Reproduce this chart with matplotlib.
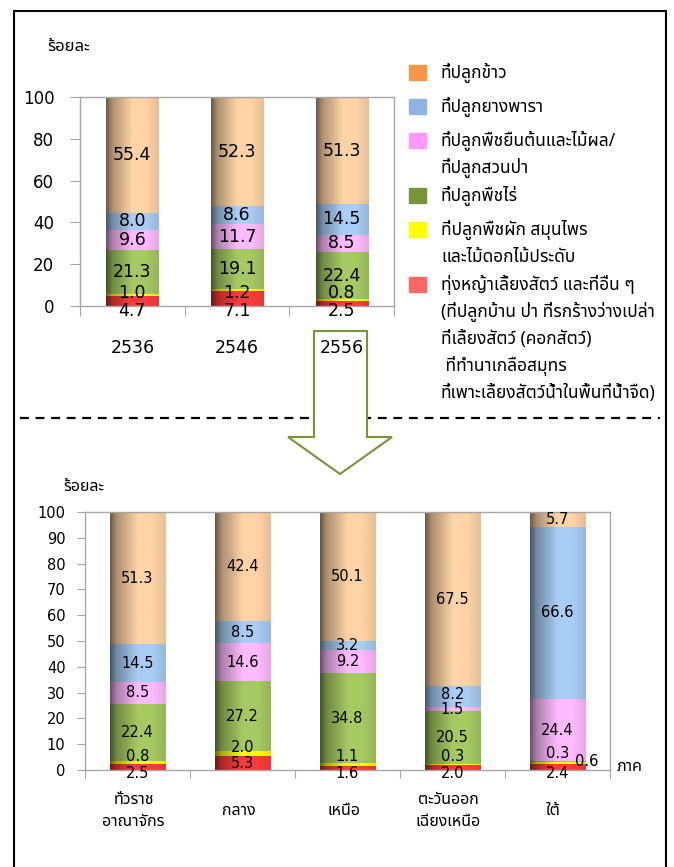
import numpy as np
import matplotlib
matplotlib.use("Agg")
import matplotlib.pyplot as plt
import matplotlib.colors as mcolors
from matplotlib import font_manager
from matplotlib.ft2font import FT2Font
from matplotlib.patches import Rectangle, Polygon
from matplotlib.lines import Line2D

# ---- data ----
years = ["2536", "2546", "2556"]
others_y = [4.7, 7.1, 2.5]
veg_y = [1.0, 1.2, 0.8]
field_y = [21.3, 19.1, 22.4]
perennial_y = [9.6, 11.7, 8.5]
rubber_y = [8.0, 8.6, 14.5]
rice_y = [55.4, 52.3, 51.3]

regions = ["ทั่วราช\nอาณาจักร", "กลาง", "เหนือ", "ตะวันออก\nเฉียงเหนือ", "ใต้"]
others_r = [2.5, 5.3, 1.6, 2.0, 2.4]
veg_r = [0.8, 2.0, 1.1, 0.3, 0.6]
field_r = [22.4, 27.2, 34.8, 20.5, 0.3]
perennial_r = [8.5, 14.6, 9.2, 1.5, 24.4]
rubber_r = [14.5, 8.5, 3.2, 8.2, 66.6]
rice_r = [51.3, 42.4, 50.1, 67.5, 5.7]

# legend, top to bottom
legend_labels = [
    ["ที่ปลูกข้าว"],
    ["ที่ปลูกยางพารา"],
    ["ที่ปลูกพืชยืนต้นและไม้ผล/", "ที่ปลูกสวนป่า"],
    ["ที่ปลูกพืชไร่"],
    ["ที่ปลูกพืชผัก สมุนไพร", "และไม้ดอกไม้ประดับ"],
    ["ทุ่งหญ้าเลี้ยงสัตว์ และที่อื่น ๆ", "(ที่ปลูกบ้าน ป่า ที่รกร้างว่างเปล่า",
     "ที่เลี้ยงสัตว์ (คอกสัตว์)", " ที่ทำนาเกลือสมุทร",
     "ที่เพาะเลี้ยงสัตว์น้ำในพื้นที่น้ำจืด)"],
]
legend_colors = ["#F79646", "#8DB4E2", "#FF99FF", "#77933C", "#FFFF00", "#FF6666"]
# bar body colours, bottom to top (others, veg, field, perennial, rubber, rice)
bar_colors = ["#FF3B3B", "#FFFF10", "#A6CA62", "#FFBBFF", "#A9CDF5", "#FFD4A6"]


# ---- fonts: find something that can draw Thai ----
def thai_family():
    known = {f.fname for f in font_manager.fontManager.ttflist}
    for path in font_manager.findSystemFonts():
        if path not in known:
            try:
                font_manager.fontManager.addfont(path)
            except Exception:
                pass
    found = []
    for f in font_manager.fontManager.ttflist:
        try:
            if 0x0E01 in FT2Font(f.fname).get_charmap():
                found.append(f.name)
        except Exception:
            pass
    pref = ["Tahoma", "Noto Sans Thai", "Noto Sans Thai UI", "Loma", "Waree",
            "Garuda", "Umpush", "Sawasdee", "Kinnari", "Norasi"]
    for p in pref:
        if p in found:
            return p
    return found[0] if found else None


tf = thai_family()
thai = [tf, "DejaVu Sans"] if tf else ["DejaVu Sans"]
plt.rcParams["font.family"] = thai
names = {f.name for f in font_manager.fontManager.ttflist}
num_font = ["DejaVu Sans Condensed" if "DejaVu Sans Condensed" in names else "DejaVu Sans"]

W, H = 674, 867
fig = plt.figure(figsize=(W / 100, H / 100), dpi=100)


def fx(px):
    return px / W


def fy(py):
    return 1 - py / H


def shade(ax, rect, base):
    x0, y0 = rect.get_x(), rect.get_y()
    w, h = rect.get_width(), rect.get_height()
    t = np.linspace(0, 1, 80)
    s = np.interp(t, [0, 0.12, 0.5, 0.75, 1], [0.42, 0.68, 1.0, 1.0, 0.9])
    rgb = np.array(mcolors.to_rgb(base))
    img = np.clip(rgb[None, :] * s[:, None], 0, 1)[None, :, :]
    ax.imshow(img, extent=(x0, x0 + w, y0, y0 + h), aspect="auto",
              interpolation="bilinear", zorder=2.5)


def draw_stack(ax, stack, width):
    n = len(stack[0])
    x = np.arange(n)
    bottom = np.zeros(n)
    out = []
    for vals, col in zip(stack, bar_colors):
        bars = ax.bar(x, vals, width, bottom=bottom, color=col, linewidth=0, zorder=2)
        for r in bars:
            shade(ax, r, col)
        out.append(bars)
        bottom = bottom + np.array(vals)
    return out


def style(ax, cats, fs, tlen, ypad, cat_fs, cat_drop, cat_dx):
    n = len(cats)
    for s in ax.spines.values():
        s.set_color("#A6A6A6")
        s.set_linewidth(1)
    ax.set_xlim(-0.5, n - 0.5)
    ax.set_ylim(0, 100)
    ax.set_xticks(np.arange(n + 1) - 0.5)
    ax.set_xticklabels([])
    ax.tick_params(axis="both", which="major", direction="out", length=tlen,
                   color="#A6A6A6", labelsize=fs)
    ax.tick_params(axis="y", pad=ypad)
    for lb in ax.get_yticklabels():
        lb.set_family(num_font)
    for i, c in enumerate(cats):
        fam = num_font if c.isdigit() else thai
        ax.annotate(c, (i, 0), xycoords=ax.get_xaxis_transform(),
                    xytext=(cat_dx * 0.72, -cat_drop * 0.72), textcoords="offset points",
                    ha="center", va="center", fontsize=cat_fs, family=fam,
                    linespacing=1.5, annotation_clip=False)


def put(ax, x, y_px, txt, fs, ha="center"):
    ax.annotate(txt, (x, 0), xytext=(0, y_px * 0.72), textcoords="offset points",
                ha=ha, va="center", fontsize=fs, family=num_font, zorder=5,
                annotation_clip=False)


# ---- top chart ----
ax1 = fig.add_axes([fx(80), fy(306), fx(394) - fx(80), (306 - 97) / H])
stack_y = [others_y, veg_y, field_y, perennial_y, rubber_y, rice_y]
cont1 = draw_stack(ax1, stack_y, 0.5)
style(ax1, years, 12, 7, 11.5, 12.5, 42, 0)
ax1.set_yticks(np.arange(0, 101, 20))
ppu1 = 209 / 100
for i in range(len(years)):
    base = 0.0
    for k, vals in enumerate(stack_y):
        v = vals[i]
        if k == 0:
            y = -5
        elif k == 1:
            y = 13
        else:
            y = (base + v / 2) * ppu1
        put(ax1, i, y, f"{v:.1f}", 12.5)
        base += v

# ---- bottom chart ----
ax2 = fig.add_axes([fx(85), fy(770), fx(610) - fx(85), (770 - 512) / H])
stack_r = [others_r, veg_r, field_r, perennial_r, rubber_r, rice_r]
cont2 = draw_stack(ax2, stack_r, 0.53)
style(ax2, regions, 10.5, 6, 8, 11.5, 41, -4)
ax2.set_yticks(np.arange(0, 101, 10))
ppu2 = 258 / 100
for i in range(len(regions)):
    base = 0.0
    last = None
    tiny = veg_r[i] < 1 and field_r[i] < 1
    for k, vals in enumerate(stack_r):
        v = vals[i]
        top = base + v
        x = i
        if k == 0:
            y = (v / 2) * ppu2 if v * ppu2 > 10 else -4
        elif k == 1:
            if tiny:
                y, x = 9, i + 0.28
            else:
                y = max(top * ppu2 + 4, 13.5)
        elif k == 2 and tiny:
            y = 17
        else:
            y = (base + v / 2) * ppu2
        if x == i:
            # keep stacked labels from running into each other
            if last is not None and k > 1:
                y = max(y, last + 15)
            last = y
        put(ax2, x, y, f"{v:.1f}", 10.5)
        base = top

# ---- figure furniture ----
fig.text(fx(47), fy(47), "ร้อยละ", fontsize=12, va="center", ha="left")
fig.text(fx(63), fy(487), "ร้อยละ", fontsize=11.5, va="center", ha="left")
fig.text(fx(617), fy(767), "ภาค", fontsize=11.5, va="center", ha="left")

# legend drawn by hand so the swatch sits on the first line
y = 73
for lines, col in zip(legend_labels, legend_colors):
    fig.patches.append(Rectangle((fx(409), fy(y + 7)), fx(17), 15 / H, color=col,
                                 transform=fig.transFigure, figure=fig))
    for j, ln in enumerate(lines):
        fig.text(fx(441), fy(y + j * 27), ln, fontsize=12.5, va="center", ha="left")
    y += 34 + 21 * (len(lines) - 1)

# dashed separator
fig.lines.append(Line2D([fx(20), fx(660)], [fy(418), fy(418)], color="black",
                        lw=1.6, ls=(0, (4, 3)), transform=fig.transFigure,
                        zorder=-2, figure=fig))

# hollow green arrow from 2556 down to the regional chart
arrow_px = [(314, 331), (367, 331), (367, 437), (392, 437), (340, 474),
            (288, 437), (314, 437)]
fig.patches.append(Polygon([(fx(a), fy(b)) for a, b in arrow_px], closed=True,
                           facecolor="white", edgecolor="#77933C", lw=1.5,
                           transform=fig.transFigure, zorder=-1, figure=fig))

# outer frame
fig.patches.append(Rectangle((fx(14), fy(880)), fx(666) - fx(14), (880 - 11) / H,
                             facecolor="none", edgecolor="black", lw=1.5,
                             transform=fig.transFigure, zorder=-3, figure=fig))

fig.savefig("out.png", dpi=100)
